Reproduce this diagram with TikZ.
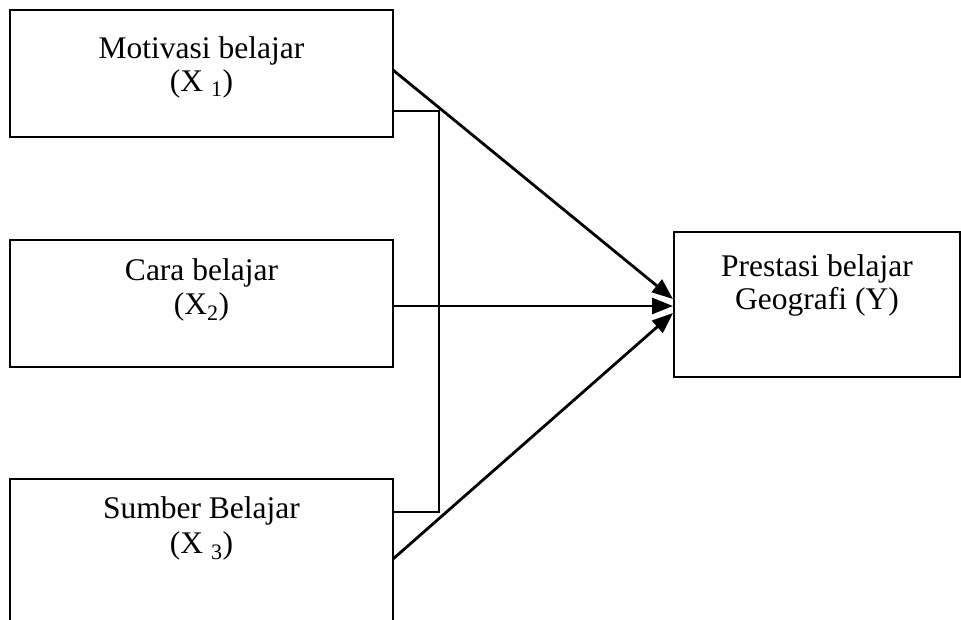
\documentclass[tikz,border=0pt]{standalone}
\usepackage{fontspec}
\setmainfont{Liberation Serif}
\usetikzlibrary{arrows.meta,calc}
\begin{document}
\begin{tikzpicture}[x=1pt,y=-1pt,
  boxline/.style={draw=black,line width=2.4pt},
  conn/.style={draw=black,line width=2.8pt},
  arr/.style={conn,-{Triangle[length=21pt,width=16pt]}},
  lbl/.style={anchor=base,inner sep=0pt,font=\fontsize{31.5}{36}\selectfont}]
\useasboundingbox (0,0) rectangle (961,619);
\clip (0,0) rectangle (961,619);
\fill[white] (0,0) rectangle (961,619);
% boxes
\coordinate (b1nw) at (10,10);   \coordinate (b1se) at (393,137);
\coordinate (b2nw) at (10,240);  \coordinate (b2se) at (393,367);
\coordinate (b3nw) at (10,479);  \coordinate (b3se) at (393,660);
\coordinate (ynw) at (674,232);  \coordinate (yse) at (960,377);
\path[boxline] (b1nw) rectangle (b1se);
\path[boxline] (b2nw) rectangle (b2se);
\path[boxline] (b3nw) rectangle (b3se);
\path[boxline] (ynw) rectangle (yse);
% labels
\node[lbl] (t1a) at (201.5,58) {Motivasi belajar};
\node[lbl] (t1b) at (201.5,91) {(X \textsubscript{1})};
\node[lbl] (t2a) at (201.5,280) {Cara belajar};
\node[lbl] (t2b) at (201.5,314) {(X\textsubscript{2})};
\node[lbl] (t3a) at (201.5,518) {Sumber Belajar};
\node[lbl] (t3b) at (201.5,553) {(X \textsubscript{3})};
\node[lbl] (tya) at (817,276) {Prestasi belajar};
\node[lbl] (tyb) at (817,309) {Geografi (Y)};
% connector points
\coordinate (s1) at (393,70);
\coordinate (s2) at (393,306);
\coordinate (s3) at (393,559);
\coordinate (e1) at (673,299);
\coordinate (e2) at (673,306);
\coordinate (e3) at (673,313);
\coordinate (k1) at (393,111);
\coordinate (k2) at (439,111);
\coordinate (k3) at (439,512);
\coordinate (k4) at (393,512);
\draw[conn,line width=2.4pt] (k1) -- (k2) -- (k3) -- (k4);
\draw[arr] (s1) -- (e1);
\draw[arr] (s2) -- (e2);
\draw[arr] (s3) -- (e3);
\end{tikzpicture}
\end{document}
